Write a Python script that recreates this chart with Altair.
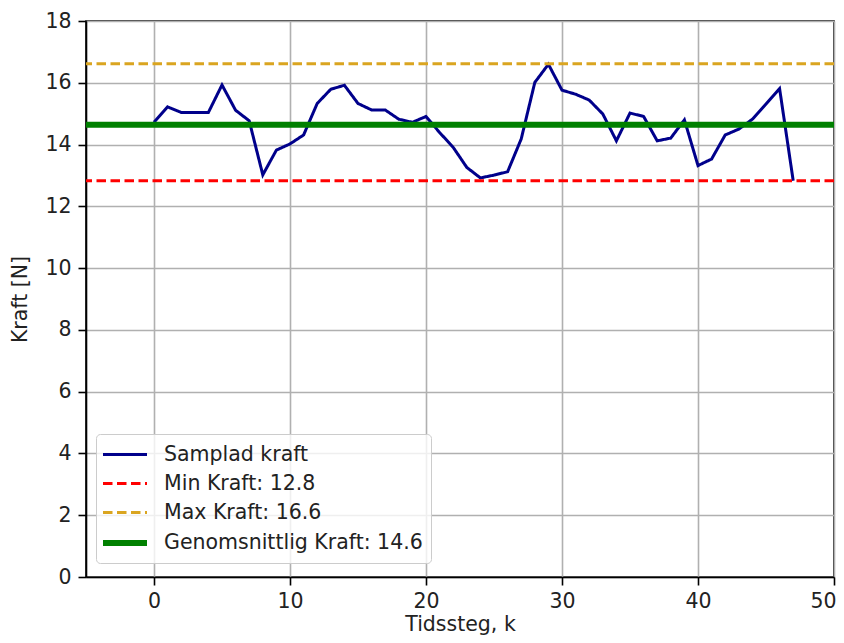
import altair as alt
import pandas as pd

# --- data ---
k_steps = list(range(48))
kraft = [14.72, 15.22, 15.04, 15.04, 15.04, 15.93, 15.11, 14.77, 13.02, 13.82,
         14.02, 14.31, 15.33, 15.79, 15.92, 15.33, 15.12, 15.12, 14.82, 14.72,
         14.91, 14.39, 13.91, 13.26, 12.92, 13.01, 13.12, 14.18, 16.01, 16.60,
         15.76, 15.63, 15.44, 14.99, 14.12, 15.02, 14.91, 14.12, 14.21, 14.80,
         13.32, 13.53, 14.31, 14.50, 14.82, 15.31, 15.81, 12.83]
min_kraft = 12.83
max_kraft = 16.62
mean_kraft = 14.64

series_names = ["Samplad kraft", "Min Kraft: 12.8", "Max Kraft: 16.6",
                "Genomsnittlig Kraft: 14.6"]
series_colors = ["#00008b", "#ff0000", "#daa520", "#008000"]
series_dash = [[1, 0], [9.5, 4.5], [9.5, 4.5], [1, 0]]
series_width = [3, 3, 3, 6]

FONT = "DejaVu Sans"
FS = 20.5

line_df = pd.DataFrame({"k": k_steps, "kraft": kraft, "serie": series_names[0]})
rule_df = pd.DataFrame({"kraft": [min_kraft, max_kraft, mean_kraft],
                        "serie": series_names[1:]})

color = alt.Color("serie:N", scale=alt.Scale(domain=series_names, range=series_colors),
                  legend=alt.Legend(
                      title=None, orient="none", legendX=10, legendY=413,
                      symbolType="M-2,0H2", symbolSize=484,
                      symbolOffset=7, labelOffset=25,
                      labelFont=FONT, labelFontSize=FS, labelColor="#222222",
                      rowPadding=6, padding=8,
                      fillColor="rgba(255,255,255,0.8)", strokeColor="#cccccc",
                      cornerRadius=4, labelLimit=400))
dash = alt.StrokeDash("serie:N", scale=alt.Scale(domain=series_names, range=series_dash),
                      legend=None)
width = alt.StrokeWidth("serie:N",
                        scale=alt.Scale(type="ordinal", domain=series_names, range=series_width),
                        legend=None)

xaxis = alt.Axis(values=[0, 10, 20, 30, 40, 50], title="Tidssteg, k", format="d",
                 tickSize=8, labelPadding=6, titlePadding=3,
                 labelFlush=True, labelFlushOffset=2)
yaxis = alt.Axis(values=list(range(0, 19, 2)), title="Kraft [N]", format="d",
                 tickSize=8, labelPadding=7, titlePadding=14)

x = alt.X("k:Q", scale=alt.Scale(domain=[-5, 50], nice=False, zero=False), axis=xaxis)
y = alt.Y("kraft:Q", scale=alt.Scale(domain=[0, 18], nice=False), axis=yaxis)

sample = alt.Chart(line_df).mark_line().encode(x=x, y=y, color=color,
                                               strokeDash=dash, strokeWidth=width)
rules = alt.Chart(rule_df).mark_rule().encode(y=y, color=color,
                                              strokeDash=dash, strokeWidth=width)

chart = alt.layer(sample, rules).properties(
    width=748, height=556,
    autosize=alt.AutoSizeParams(type="none"),
    padding={"left": 78, "top": 13, "right": 2, "bottom": 58},
).configure_view(stroke="black", strokeWidth=1.6
).configure_axis(
    domainColor="black", domainWidth=1.6, tickColor="black", tickWidth=1.6,
    gridColor="#b0b0b0", gridWidth=1.6, gridOpacity=1,
    labelFont=FONT, labelFontSize=FS, labelColor="#222222",
    titleFont=FONT, titleFontSize=FS, titleColor="#222222", titleFontWeight="normal",
)

chart.save("out.html", embed_options={"renderer": "svg", "actions": False})
